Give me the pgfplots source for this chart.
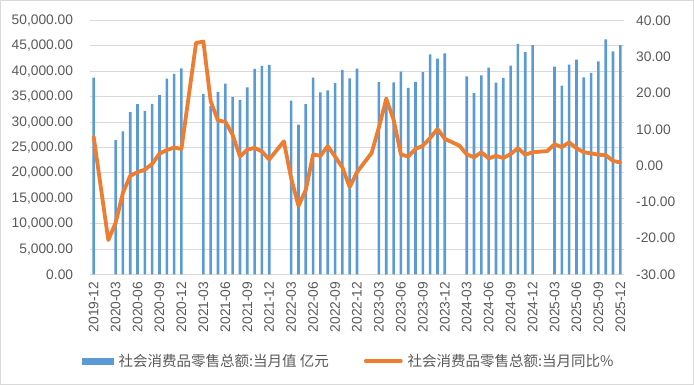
\documentclass[border=0pt]{standalone}
\usepackage{pgfplots}
\pgfplotsset{compat=1.18}
\usepackage{pgfplotstable}
\usepackage{fontspec}
\setmainfont{Liberation Sans}
\newfontfamily\cjk{Noto Sans CJK SC}
\definecolor{barblue}{HTML}{5B9BD5}
\definecolor{lineorange}{HTML}{ED7D31}
\definecolor{gridgray}{HTML}{D9D9D9}
\definecolor{txtgray}{HTML}{595959}

\pgfplotstableread{
x y
0 38777
3 26450
4 28178
5 31973
6 33526
7 32203
8 33571
9 35295
10 38576
11 39514
12 40566
15 35484
16 33153
17 35945
18 37586
19 34925
20 34395
21 36833
22 40454
23 41043
24 41269
27 34233
28 29483
29 33547
30 38742
31 35870
32 36258
33 37745
34 40271
35 38615
36 40542
39 37855
40 34910
41 37803
42 39951
43 36761
44 37933
45 39826
46 43333
47 42505
48 43550
51 39020
52 35699
53 39211
54 40732
55 37757
56 38726
57 41112
58 45396
59 43763
60 45172
63 40940
64 37174
65 41326
66 42287
67 38780
68 39668
69 41971
70 46291
71 43898
72 45136
}\bardata

\pgfplotstableread{
x y
0 8.0
2 -20.5
3 -15.8
4 -7.5
5 -2.8
6 -1.8
7 -1.1
8 0.5
9 3.3
10 4.3
11 5.0
12 4.6
14 33.8
15 34.2
16 17.7
17 12.4
18 12.1
19 8.5
20 2.5
21 4.4
22 4.9
23 3.9
24 1.7
26 6.7
27 -3.5
28 -11.1
29 -6.7
30 3.1
31 2.7
32 5.4
33 2.5
34 -0.5
35 -5.9
36 -1.8
38 3.5
39 10.6
40 18.4
41 12.7
42 3.1
43 2.5
44 4.6
45 5.5
46 7.6
47 10.1
48 7.4
50 5.5
51 3.1
52 2.3
53 3.7
54 2.0
55 2.7
56 2.1
57 3.2
58 4.8
59 3.0
60 3.7
62 4.0
63 5.9
64 5.1
65 6.4
66 4.8
67 3.7
68 3.4
69 3.0
70 2.9
71 1.3
72 0.9
}\linedata

\begin{document}
\begin{tikzpicture}
\useasboundingbox (0,0) rectangle (694bp,385bp);
\draw[gridgray, line width=1bp] (0.5bp,0.5bp) rectangle (693.5bp,384.5bp);
\begin{axis}[
  at={(90bp,110.5bp)}, anchor=south west,
  width=534bp, height=254bp, scale only axis,
  xmin=-0.5, xmax=72.5, ymin=0, ymax=50000,
  scaled y ticks=false,
  axis x line*=bottom, axis y line*=left,
  x axis line style={draw=gridgray, line width=1bp, -},
  y axis line style={draw=none},
  major tick length=0pt,
  xtick={0,3,...,72},
  xticklabels={2019-12,2020-03,2020-06,2020-09,2020-12,2021-03,2021-06,2021-09,2021-12,2022-03,2022-06,2022-09,2022-12,2023-03,2023-06,2023-09,2023-12,2024-03,2024-06,2024-09,2024-12,2025-03,2025-06,2025-09,2025-12},
  xticklabel style={rotate=90, anchor=east, inner sep=0pt, font=\fontsize{13.8bp}{16bp}\selectfont, text=txtgray},
  xticklabel shift=7bp,
  ytick={0,5000,...,50000},
  yticklabels={{0.00},{5,000.00},{10,000.00},{15,000.00},{20,000.00},{25,000.00},{30,000.00},{35,000.00},{40,000.00},{45,000.00},{50,000.00}},
  yticklabel style={anchor=east, inner sep=0pt, font=\fontsize{13.8bp}{16bp}\selectfont, text=txtgray},
  yticklabel shift=16.7bp,
  ymajorgrids, grid style={gridgray, line width=1bp},
]
\addplot[ybar, bar width=2.6bp, fill=barblue, draw=none] table[x=x,y=y] {\bardata};
\end{axis}
\begin{axis}[
  at={(90bp,110.5bp)}, anchor=south west,
  width=534bp, height=254bp, scale only axis,
  xmin=-0.5, xmax=72.5, ymin=-30, ymax=40,
  scaled y ticks=false,
  axis x line=none, axis y line*=right,
  y axis line style={draw=none},
  major tick length=0pt,
  ytick={-30,-20,...,40},
  yticklabels={-30.00,-20.00,-10.00,0.00,10.00,20.00,30.00,40.00},
  yticklabel style={anchor=west, inner sep=0pt, font=\fontsize{13.8bp}{16bp}\selectfont, text=txtgray},
  yticklabel shift=12bp,
  legend columns=2,
  legend style={at={(-0.015,-0.3406)}, anchor=west, draw=none, fill=none, inner sep=0pt,
    font=\cjk\fontsize{14.5bp}{17bp}\selectfont, text=txtgray,
    /tikz/every odd column/.append style={column sep=3bp},
    /tikz/every even column/.append style={column sep=33bp}},
  legend cell align=left,
]
\addlegendimage{legend image code/.code={\fill[barblue] (0bp,-3bp) rectangle (31bp,3bp);}}
\addlegendentry{社会消费品零售总额:当月值 亿元}
\addplot[lineorange, line width=3.8bp, line join=round, line cap=round,
  legend image code/.code={\draw[lineorange, line width=3.8bp] (0bp,0bp) -- (35bp,0bp);}]
  table[x=x,y=y] {\linedata};
\addlegendentry{社会消费品零售总额:当月同比\%}
\end{axis}
\end{tikzpicture}
\end{document}
